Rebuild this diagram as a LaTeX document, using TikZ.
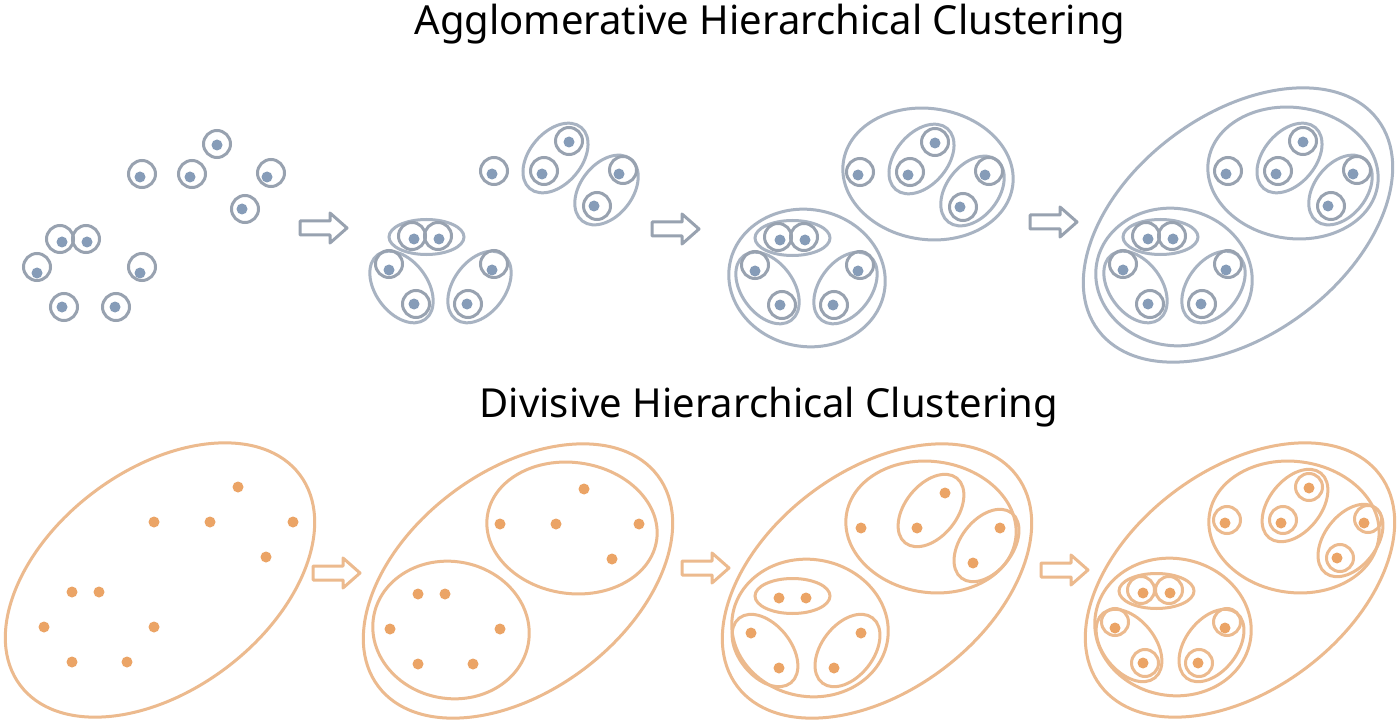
\documentclass[tikz,border=0pt]{standalone}
\usepackage{fontspec}
\setmainfont{Noto Sans}
\usetikzlibrary{calc,shapes.geometric}
\definecolor{gline}{RGB}{152,162,176}
\definecolor{gell}{RGB}{168,179,194}
\definecolor{gdot}{RGB}{134,156,184}
\definecolor{oline}{RGB}{236,186,142}
\definecolor{odot}{RGB}{235,164,102}
\tikzset{
  gring/.style={draw=gline, line width=3pt},
  gellst/.style={draw=gell, line width=3pt, ellipse, inner sep=0pt, outer sep=0pt},
  gdotst/.style={fill=gdot},
  oring/.style={draw=oline, line width=3pt},
  oellst/.style={draw=oline, line width=3pt, ellipse, inner sep=0pt, outer sep=0pt},
  odotst/.style={fill=odot},
  garrow/.style={draw=gline, line width=3pt, fill=white, line join=round},
  oarrow/.style={draw=oline, line width=3pt, fill=white, line join=round},
  titlest/.style={anchor=base, font=\fontsize{40}{46}\selectfont, text=black}
}
\newcommand\toppts[1]{%
  \coordinate (#1a) at (217,145); \coordinate (#1b) at (140,177);
  \coordinate (#1c) at (190,177); \coordinate (#1d) at (267,177);
  \coordinate (#1e) at (242,209); \coordinate (#1f) at (62,242);
  \coordinate (#1g) at (87,242);  \coordinate (#1h) at (37,273);
  \coordinate (#1i) at (140,273); \coordinate (#1j) at (62,307);
  \coordinate (#1k) at (115,307);}
\newcommand\botpts[1]{%
  \coordinate (#1a) at (238,487); \coordinate (#1b) at (154,522);
  \coordinate (#1c) at (210,522); \coordinate (#1d) at (293,522);
  \coordinate (#1e) at (266,557); \coordinate (#1f) at (72,592);
  \coordinate (#1g) at (99,592);  \coordinate (#1h) at (44,627);
  \coordinate (#1i) at (154,627); \coordinate (#1j) at (72,662);
  \coordinate (#1k) at (127,662);}
\newcommand\drawdots[2]{%
  \foreach \q in {a,b,c,d,e,f,g,h,i,j,k} {\fill[#2] (#1\q) circle[radius=5.5pt];}}
\newcommand\drawrings[2]{%
  \foreach \q/\ox/\oy in {a/0/-1,b/2/-3,c/2/-3,d/4/-4,e/3/0,f/-2/-3,g/-1/-3,h/0/-6,i/2/-6,j/2/0,k/1/0}
    {\draw[#2] ($(#1\q)+(\ox,\oy)$) circle[radius=13.5pt];}}
\newcommand\pairell[4]{%
  \path let \p1=($(#2)-(#1)$), \n1={atan2(\y1,\x1)}, \n2={veclen(\x1,\y1)+38} in
    node[#4, minimum width=\n2, minimum height=52pt, rotate=\n1] (#3) at ($(#1)!0.5!(#2)$) {};}
\newcommand\horell[4]{%
  \node[#4, minimum width=75pt, minimum height=35pt] (#3) at ($(#1)!0.5!(#2)+(0,-2)$) {};}
\newcommand\pairs[2]{% prefix, style
  \pairell{#1a}{#1c}{#1pac}{#2}
  \pairell{#1d}{#1e}{#1pde}{#2}
  \horell{#1f}{#1g}{#1pfg}{#2}
  \pairell{#1h}{#1j}{#1phj}{#2}
  \pairell{#1i}{#1k}{#1pik}{#2}}
\newcommand\hollowarrow[4]{% name, x, y, style
  \draw[#4, shift={(#2,#3)}] (0,-7) -- (30,-7) -- (30,-15) -- (47,0) -- (30,15) -- (30,7) -- (0,7) -- cycle;
  \coordinate (#1) at (#2,#3);}
\begin{document}
\begin{tikzpicture}[x=1pt,y=-1pt]
\fill[white] (0,0) rectangle (1398,722);
\useasboundingbox (0,0) rectangle (1398,722);

% titles
\node[titlest] (title1) at (770,35) {Agglomerative Hierarchical Clustering};
\node[titlest] (title2) at (769,417) {Divisive Hierarchical Clustering};

% ---------------- Agglomerative ----------------
% stage 1
\begin{scope}
  \toppts{t1}
  \drawrings{t1}{gring}
  \drawdots{t1}{gdotst}
\end{scope}
% stage 2
\begin{scope}[shift={(352,-3)}]
  \toppts{t2}
\end{scope}
\pairs{t2}{gellst}
\drawrings{t2}{gring}
\drawdots{t2}{gdotst}
% stage 3
\begin{scope}[shift={(718,-2)}]
  \toppts{t3}
\end{scope}
\node[gellst, minimum width=171pt, minimum height=131pt, rotate=-8] (t3up) at (928,174) {};
\node[gellst, minimum width=157pt, minimum height=137pt, rotate=-10] (t3lo) at (807,278) {};
\pairs{t3}{gellst}
\drawrings{t3}{gring}
\drawdots{t3}{gdotst}
% stage 4
\begin{scope}[shift={(1086,-3)}]
  \toppts{t4}
\end{scope}
\node[gellst, minimum width=350pt, minimum height=220pt, rotate=37] (t4out) at (1238,225) {};
\node[gellst, minimum width=171pt, minimum height=131pt, rotate=-8] (t4up) at (1293,173) {};
\node[gellst, minimum width=157pt, minimum height=137pt, rotate=-10] (t4lo) at (1174,277) {};
\pairs{t4}{gellst}
\drawrings{t4}{gring}
\drawdots{t4}{gdotst}
% arrows
\hollowarrow{ga1}{300}{228}{garrow}
\hollowarrow{ga2}{652}{229}{garrow}
\hollowarrow{ga3}{1030}{222}{garrow}

% ---------------- Divisive ----------------
% stage 1
\begin{scope}
  \botpts{b1}
\end{scope}
\node[oellst, minimum width=350pt, minimum height=220pt, rotate=37] (b1out) at (160,580) {};
\drawdots{b1}{odotst}
% stage 2
\begin{scope}[shift={(346,2)}]
  \botpts{b2}
\end{scope}
\node[oellst, minimum width=350pt, minimum height=220pt, rotate=37] (b2out) at (518,581) {};
\node[oellst, minimum width=171pt, minimum height=131pt, rotate=-8] (b2up) at (572,528) {};
\node[oellst, minimum width=157pt, minimum height=137pt, rotate=-10] (b2lo) at (451,630) {};
\drawdots{b2}{odotst}
% stage 3
\begin{scope}[shift={(707,6)}]
  \botpts{b3}
\end{scope}
\node[oellst, minimum width=350pt, minimum height=220pt, rotate=37] (b3out) at (877,581) {};
\node[oellst, minimum width=171pt, minimum height=131pt, rotate=-8] (b3up) at (931,527) {};
\node[oellst, minimum width=157pt, minimum height=137pt, rotate=-10] (b3lo) at (810,628) {};
\pairs{b3}{oellst}
\drawdots{b3}{odotst}
% stage 4
\begin{scope}[shift={(1071,1)}]
  \botpts{b4}
\end{scope}
\node[oellst, minimum width=350pt, minimum height=220pt, rotate=37] (b4out) at (1240,580) {};
\node[oellst, minimum width=171pt, minimum height=131pt, rotate=-8] (b4up) at (1294,527) {};
\node[oellst, minimum width=157pt, minimum height=137pt, rotate=-10] (b4lo) at (1173,627) {};
\pairs{b4}{oellst}
\drawrings{b4}{oring}
\drawdots{b4}{odotst}
% arrows
\hollowarrow{oa1}{313}{573}{oarrow}
\hollowarrow{oa2}{682}{568}{oarrow}
\hollowarrow{oa3}{1041}{570}{oarrow}
\end{tikzpicture}
\end{document}
